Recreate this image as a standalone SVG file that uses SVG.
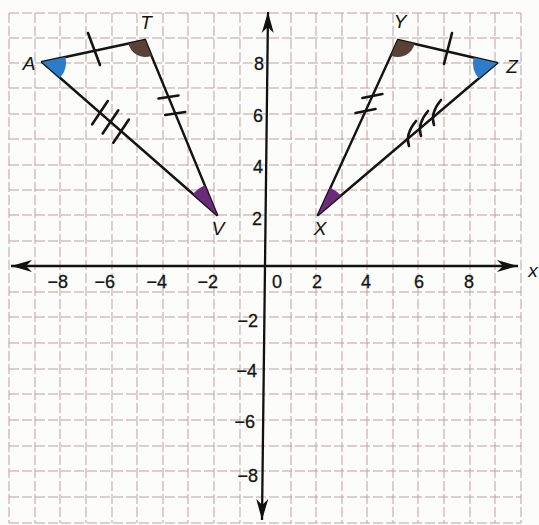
<svg xmlns="http://www.w3.org/2000/svg" width="539" height="525" viewBox="0 0 539 525">
<style>
.grid line{stroke:#b9a3a1;stroke-width:1;stroke-dasharray:10 3;}
.axis{stroke:#111;stroke-width:2.3;fill:none;}
.edge{stroke:#141414;stroke-width:2.4;fill:none;stroke-linecap:round;}
.tick{stroke:#141414;stroke-width:2.6;fill:none;stroke-linecap:round;}
.num{font-family:"Liberation Sans",Arial,sans-serif;font-size:18px;fill:#151515;stroke:#151515;stroke-width:0.3;}
.lbl{font-family:"Liberation Sans",Arial,sans-serif;font-size:19px;font-style:italic;fill:#151515;}
.blue{fill:#2d7cc9;}
.brown{fill:#5b4037;}
.purple{fill:#6b2a7a;}
</style>
<defs>
<marker id="arr" viewBox="-22 -7 24 14" refX="0" refY="0" markerWidth="24" markerHeight="14" markerUnits="userSpaceOnUse" orient="auto-start-reverse">
<path d="M0,0 L-21,-6 L-15,0 L-21,6 Z" fill="#111"/>
</marker>
</defs>
<rect width="539" height="525" fill="#fcfcfa"/>
<g id="grid" class="grid">
<line x1="9" y1="13" x2="9" y2="523"/><line x1="35" y1="13" x2="35" y2="523"/><line x1="60" y1="13" x2="60" y2="523"/><line x1="86" y1="13" x2="86" y2="523"/><line x1="112" y1="13" x2="112" y2="523"/><line x1="137" y1="13" x2="137" y2="523"/><line x1="163" y1="13" x2="163" y2="523"/><line x1="188" y1="13" x2="188" y2="523"/><line x1="214" y1="13" x2="214" y2="523"/><line x1="240" y1="13" x2="240" y2="523"/><line x1="291" y1="13" x2="291" y2="523"/><line x1="316" y1="13" x2="316" y2="523"/><line x1="342" y1="13" x2="342" y2="523"/><line x1="367" y1="13" x2="367" y2="523"/><line x1="393" y1="13" x2="393" y2="523"/><line x1="418" y1="13" x2="418" y2="523"/><line x1="444" y1="13" x2="444" y2="523"/><line x1="470" y1="13" x2="470" y2="523"/><line x1="495" y1="13" x2="495" y2="523"/><line x1="521" y1="13" x2="521" y2="523"/>
<line x1="9" y1="13" x2="521" y2="13"/><line x1="9" y1="38" x2="521" y2="38"/><line x1="9" y1="63" x2="521" y2="63"/><line x1="9" y1="88" x2="521" y2="88"/><line x1="9" y1="114" x2="521" y2="114"/><line x1="9" y1="139" x2="521" y2="139"/><line x1="9" y1="165" x2="521" y2="165"/><line x1="9" y1="190" x2="521" y2="190"/><line x1="9" y1="215" x2="521" y2="215"/><line x1="9" y1="241" x2="521" y2="241"/><line x1="9" y1="292" x2="521" y2="292"/><line x1="9" y1="317" x2="521" y2="317"/><line x1="9" y1="343" x2="521" y2="343"/><line x1="9" y1="369" x2="521" y2="369"/><line x1="9" y1="394" x2="521" y2="394"/><line x1="9" y1="420" x2="521" y2="420"/><line x1="9" y1="446" x2="521" y2="446"/><line x1="9" y1="471" x2="521" y2="471"/><line x1="9" y1="497" x2="521" y2="497"/><line x1="9" y1="523" x2="521" y2="523"/>
</g>
<g id="axes">
<line class="axis" x1="11" y1="266" x2="518" y2="266" marker-start="url(#arr)" marker-end="url(#arr)"/>
<line class="axis" x1="268" y1="12" x2="262" y2="520" marker-start="url(#arr)" marker-end="url(#arr)"/>
<text class="lbl" x="533" y="277" text-anchor="middle" font-size="21">x</text>
</g>
<g id="axis-labels" class="num">
<text x="68" y="288" text-anchor="end">−8</text>
<text x="115" y="288" text-anchor="end">−6</text>
<text x="167" y="288" text-anchor="end">−4</text>
<text x="218" y="288" text-anchor="end">−2</text>
<text x="277" y="288" text-anchor="middle">0</text>
<text x="317" y="288" text-anchor="middle">2</text>
<text x="366" y="288" text-anchor="middle">4</text>
<text x="419" y="288" text-anchor="middle">6</text>
<text x="469" y="288" text-anchor="middle">8</text>
<text x="264" y="70" text-anchor="end">8</text>
<text x="263" y="122" text-anchor="end">6</text>
<text x="263" y="173" text-anchor="end">4</text>
<text x="262" y="225" text-anchor="end">2</text>
<text x="258" y="327" text-anchor="end">−2</text>
<text x="257" y="377" text-anchor="end">−4</text>
<text x="255" y="428" text-anchor="end">−6</text>
<text x="258" y="482" text-anchor="end">−8</text>
</g>
<g id="connectors">
<g id="edge-AT"><line class="edge" x1="42" y1="62" x2="145" y2="40"/><line class="tick" x1="88" y1="33" x2="100" y2="65"/></g>
<g id="edge-TV"><line class="edge" x1="145" y1="40" x2="217" y2="215"/><line class="tick" x1="158.5" y1="98.5" x2="178.5" y2="95.5"/><line class="tick" x1="165.2" y1="115" x2="185.2" y2="112"/></g>
<g id="edge-AV"><line class="edge" x1="42" y1="62" x2="217" y2="215"/><line class="tick" x1="107.8" y1="101.1" x2="92.2" y2="124.3"/><line class="tick" x1="118.3" y1="110.3" x2="102.7" y2="133.5"/><line class="tick" x1="128.9" y1="119.5" x2="113.3" y2="142.7"/></g>
<g id="edge-XY"><line class="edge" x1="318" y1="215" x2="398" y2="40"/><line class="tick" x1="362.4" y1="98" x2="382.4" y2="94"/><line class="tick" x1="355.5" y1="113" x2="375.5" y2="109"/></g>
<g id="edge-YZ"><line class="edge" x1="398" y1="40" x2="497" y2="63"/><line class="tick" x1="452" y1="33" x2="444" y2="64"/></g>
<g id="edge-XZ"><line class="edge" x1="318" y1="215" x2="497" y2="63"/><path class="tick" d="M409,146 Q405,134 416,121"/><path class="tick" d="M421,136 Q417,124 428,111"/><path class="tick" d="M434,125 Q430,113 441,100"/></g>
</g>
<g id="vertex-A"><path class="blue" d="M42,62 L65.5,57 A24,24 0 0 1 60.1,77.8 Z"/><text class="lbl" x="29" y="70" text-anchor="middle">A</text></g>
<g id="vertex-T"><path class="brown" d="M145,40 L128.4,43.6 A17,17 0 0 0 151.5,55.7 Z"/><text class="lbl" x="146" y="29" text-anchor="middle">T</text></g>
<g id="vertex-V"><path class="purple" d="M217,215 L192.9,193.9 A32,32 0 0 1 204.8,185.4 Z"/><text class="lbl" x="218" y="235" text-anchor="middle">V</text></g>
<g id="vertex-X"><path class="purple" d="M318,215 L330.5,187.7 A30,30 0 0 1 340.9,195.6 Z"/><text class="lbl" x="320" y="235" text-anchor="middle">X</text></g>
<g id="vertex-Y"><path class="brown" d="M398,40 L390.9,55.5 A17,17 0 0 0 414.6,43.8 Z"/><text class="lbl" x="400" y="28" text-anchor="middle">Y</text></g>
<g id="vertex-Z"><path class="blue" d="M497,63 L473.6,57.6 A24,24 0 0 0 478.7,78.5 Z"/><text class="lbl" x="512" y="73" text-anchor="middle">Z</text></g>
</svg>
